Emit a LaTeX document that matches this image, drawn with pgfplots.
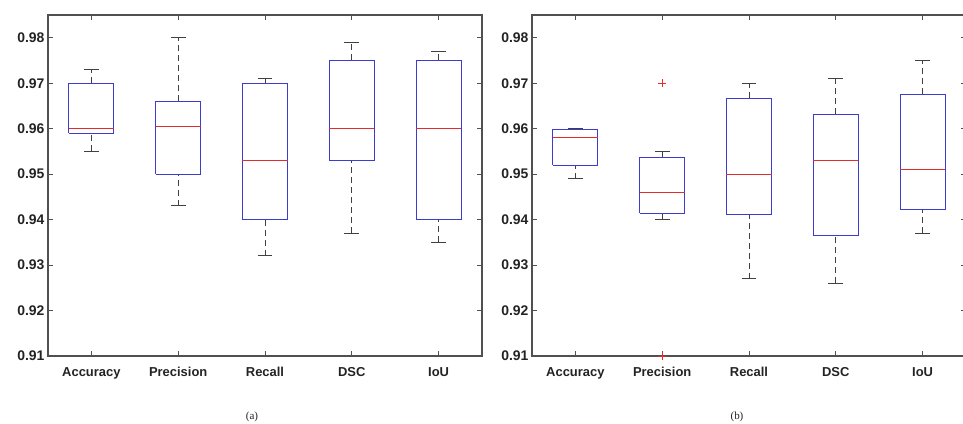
\documentclass[border=0pt]{standalone}
\usepackage{fontspec}
\setmainfont{Liberation Sans}
\newfontfamily\capfont{Liberation Serif}
\usepackage{pgfplots}
\pgfplotsset{compat=1.18}
\definecolor{boxblue}{RGB}{60,60,205}
\definecolor{medred}{RGB}{225,45,45}
\definecolor{framegray}{RGB}{80,80,80}
\definecolor{labelgray}{RGB}{35,35,35}

\pgfplotsset{
  mbox/.style={
    scale only axis, width=434bp, height=341bp,
    xmin=0.5, xmax=5.5, ymin=0.91, ymax=0.985,
    xtick={1,2,3,4,5},
    xticklabels={Accuracy,Precision,Recall,DSC,IoU},
    ytick={0.91,0.92,0.93,0.94,0.95,0.96,0.97,0.98},
    tick align=inside, major tick length=5bp,
    axis line style={framegray, line width=1.1bp},
    every tick/.style={framegray, line width=1bp},
    /pgf/number format/assume math mode=true,
    tick label style={font=\fontsize{13}{15}\selectfont\bfseries, text=labelgray},
    yticklabel style={font=\fontsize{14}{16}\selectfont\bfseries, /pgf/number format/fixed, /pgf/number format/fixed zerofill, /pgf/number format/precision=2},
    xticklabel style={yshift=-8bp},
    unbounded coords=jump,
  },
  whisk/.style={black!75, line width=1bp, dash pattern=on 6bp off 4bp, mark=none},
  cap/.style={black!75, line width=1bp, mark=none},
  bx/.style={boxblue, line width=1bp, mark=none},
  med/.style={medred, line width=1bp, mark=none},
}

\begin{document}
\begin{tikzpicture}
\useasboundingbox (0,0) rectangle (963bp,424bp);

% (a)
\begin{axis}[mbox, at={(48bp,68bp)}, anchor=south west]
% whiskers: upper quartile -> upper whisker, lower whisker -> lower quartile
\addplot[whisk] coordinates {
 (1,0.970) (1,0.973) (1,nan) (1,0.955) (1,0.959) (1,nan)
 (2,0.966) (2,0.980) (2,nan) (2,0.943) (2,0.950) (2,nan)
 (3,0.970) (3,0.971) (3,nan) (3,0.932) (3,0.940) (3,nan)
 (4,0.975) (4,0.979) (4,nan) (4,0.937) (4,0.953) (4,nan)
 (5,0.975) (5,0.977) (5,nan) (5,0.935) (5,0.940)
};
\addplot[cap] coordinates {
 (0.915,0.973) (1.085,0.973) (1,nan) (0.915,0.955) (1.085,0.955) (1,nan)
 (1.915,0.980) (2.085,0.980) (2,nan) (1.915,0.943) (2.085,0.943) (2,nan)
 (2.915,0.971) (3.085,0.971) (3,nan) (2.915,0.932) (3.085,0.932) (3,nan)
 (3.915,0.979) (4.085,0.979) (4,nan) (3.915,0.937) (4.085,0.937) (4,nan)
 (4.915,0.977) (5.085,0.977) (5,nan) (4.915,0.935) (5.085,0.935)
};
% boxes: lower quartile to upper quartile
\addplot[bx] coordinates {
 (0.74,0.959) (1.26,0.959) (1.26,0.970) (0.74,0.970) (0.74,0.959) (1,nan)
 (1.74,0.950) (2.26,0.950) (2.26,0.966) (1.74,0.966) (1.74,0.950) (2,nan)
 (2.74,0.940) (3.26,0.940) (3.26,0.970) (2.74,0.970) (2.74,0.940) (3,nan)
 (3.74,0.953) (4.26,0.953) (4.26,0.975) (3.74,0.975) (3.74,0.953) (4,nan)
 (4.74,0.940) (5.26,0.940) (5.26,0.975) (4.74,0.975) (4.74,0.940)
};
% medians
\addplot[med] coordinates {
 (0.74,0.960) (1.26,0.960) (1,nan)
 (1.74,0.9605) (2.26,0.9605) (2,nan)
 (2.74,0.953) (3.26,0.953) (3,nan)
 (3.74,0.960) (4.26,0.960) (4,nan)
 (4.74,0.960) (5.26,0.960)
};
\end{axis}

% (b)
\begin{axis}[mbox, at={(532bp,68bp)}, anchor=south west]
\addplot[whisk] coordinates {
 (1,0.9598) (1,0.960) (1,nan) (1,0.949) (1,0.952) (1,nan)
 (2,0.9537) (2,0.955) (2,nan) (2,0.940) (2,0.9414) (2,nan)
 (3,0.9667) (3,0.970) (3,nan) (3,0.927) (3,0.9412) (3,nan)
 (4,0.9632) (4,0.971) (4,nan) (4,0.926) (4,0.9364) (4,nan)
 (5,0.9676) (5,0.975) (5,nan) (5,0.937) (5,0.9422)
};
\addplot[cap] coordinates {
 (0.915,0.960) (1.085,0.960) (1,nan) (0.915,0.949) (1.085,0.949) (1,nan)
 (1.915,0.955) (2.085,0.955) (2,nan) (1.915,0.940) (2.085,0.940) (2,nan)
 (2.915,0.970) (3.085,0.970) (3,nan) (2.915,0.927) (3.085,0.927) (3,nan)
 (3.915,0.971) (4.085,0.971) (4,nan) (3.915,0.926) (4.085,0.926) (4,nan)
 (4.915,0.975) (5.085,0.975) (5,nan) (4.915,0.937) (5.085,0.937)
};
\addplot[bx] coordinates {
 (0.74,0.952) (1.26,0.952) (1.26,0.9598) (0.74,0.9598) (0.74,0.952) (1,nan)
 (1.74,0.9414) (2.26,0.9414) (2.26,0.9537) (1.74,0.9537) (1.74,0.9414) (2,nan)
 (2.74,0.9412) (3.26,0.9412) (3.26,0.9667) (2.74,0.9667) (2.74,0.9412) (3,nan)
 (3.74,0.9364) (4.26,0.9364) (4.26,0.9632) (3.74,0.9632) (3.74,0.9364) (4,nan)
 (4.74,0.9422) (5.26,0.9422) (5.26,0.9676) (4.74,0.9676) (4.74,0.9422)
};
\addplot[med] coordinates {
 (0.74,0.958) (1.26,0.958) (1,nan)
 (1.74,0.946) (2.26,0.946) (2,nan)
 (2.74,0.950) (3.26,0.950) (3,nan)
 (3.74,0.953) (4.26,0.953) (4,nan)
 (4.74,0.951) (5.26,0.951)
};
% outliers
\addplot[only marks, mark=+, mark size=4bp, mark options={medred, line width=0.9bp}] coordinates {
 (2,0.970) (2,0.910)
};
\end{axis}

\node[font=\capfont\fontsize{11}{13}\selectfont, text=labelgray] at (252bp,7bp) {(a)};
\node[font=\capfont\fontsize{11}{13}\selectfont, text=labelgray] at (737bp,7bp) {(b)};
\end{tikzpicture}
\end{document}
